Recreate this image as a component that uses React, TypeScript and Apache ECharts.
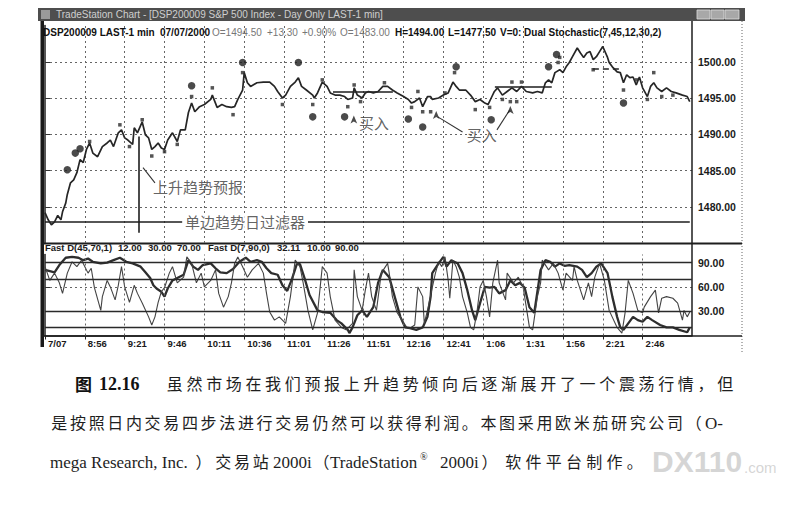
import React, { useEffect, useRef } from 'react';
import * as echarts from 'echarts';

// ---- data (x = minutes after 8:31 bar, y = price / stochastic value) ----
const tickMinutes = [0, 25, 50, 75, 100, 125, 150, 175, 200, 225, 250, 275, 300, 325, 350, 375];
const tickLabels = ['7/07', '8:56', '9:21', '9:46', '10:11', '10:36', '11:01', '11:26', '11:51', '12:16', '12:41', '1:06', '1:31', '1:56', '2:21', '2:46'];

const priceLine = [
  [0, 1479.2], [2, 1478.2], [4, 1477.5], [6, 1477.9], [8, 1478.8], [10, 1478.2], [11, 1479.3], [13, 1480.5], [14, 1481.7], [16, 1483.3],
  [18, 1483.7], [20, 1484.7], [22, 1486.5], [24, 1486.1], [26, 1487.9], [28, 1488.8], [30, 1487.4], [33, 1486.9], [36, 1488.3], [39, 1488.8],
  [41, 1489.2], [43, 1488.3], [46, 1490.2], [48, 1490.6], [50, 1489.5], [52, 1489.2], [55, 1488.6], [56, 1490.9], [58, 1490.2], [61, 1491.7],
  [63, 1489.9], [65, 1489.5], [67, 1487.9], [69, 1488.3], [71, 1488.8], [73, 1488.1], [75, 1487.9], [77, 1489.2], [80, 1490.2], [83, 1489.0],
  [85, 1490.6], [88, 1490.6], [90, 1493.0], [92, 1494.3], [94, 1493.1], [97, 1493.8], [100, 1494.1], [104, 1494.8], [105, 1495.4], [108, 1493.7],
  [111, 1494.1], [114, 1493.8], [117, 1493.7], [119, 1493.8], [121, 1494.8], [124, 1496.1], [125, 1498.5], [127, 1497.1], [129, 1496.6], [133, 1497.1],
  [137, 1497.2], [141, 1497.2], [144, 1496.6], [146, 1495.9], [149, 1495.0], [151, 1495.4], [154, 1496.6], [157, 1497.2], [159, 1497.8], [161, 1496.6],
  [164, 1496.1], [168, 1495.4], [169, 1495.0], [171, 1495.7], [174, 1497.2], [177, 1496.6], [179, 1495.7], [182, 1495.4], [185, 1495.4], [188, 1495.2],
  [190, 1494.8], [193, 1495.0], [194, 1496.4], [196, 1495.4], [199, 1495.0], [201, 1495.7], [203, 1495.9], [206, 1495.7], [209, 1495.9], [212, 1496.6],
  [215, 1496.6], [218, 1496.1], [221, 1495.7], [225, 1495.2], [228, 1494.8], [230, 1494.3], [232, 1494.5], [235, 1495.0], [237, 1493.8], [240, 1495.2],
  [242, 1495.2], [243, 1494.8], [247, 1495.0], [250, 1495.4], [253, 1495.7], [256, 1497.2], [258, 1496.6], [260, 1496.1], [264, 1496.1], [267, 1495.4],
  [270, 1494.5], [273, 1494.8], [276, 1494.3], [278, 1494.1], [280, 1495.0], [282, 1495.9], [284, 1496.4], [287, 1495.4], [290, 1495.9], [293, 1496.4],
  [296, 1495.9], [299, 1496.6], [302, 1495.9], [306, 1495.7], [309, 1495.9], [312, 1495.7], [314, 1497.1], [316, 1497.5], [318, 1497.1], [320, 1498.5],
  [323, 1498.9], [325, 1498.5], [327, 1499.3], [329, 1499.9], [331, 1500.7], [334, 1501.9], [336, 1501.2], [338, 1500.6], [340, 1501.2], [342, 1501.4],
  [344, 1500.3], [346, 1500.7], [348, 1501.4], [350, 1502.1], [353, 1500.6], [354, 1499.9], [356, 1499.3], [359, 1498.6], [361, 1498.5], [363, 1497.1],
  [365, 1498.2], [367, 1497.8], [369, 1497.9], [371, 1496.8], [373, 1497.9], [375, 1496.4], [378, 1495.2], [380, 1496.6], [382, 1497.1], [384, 1496.4],
  [387, 1495.9], [390, 1496.4], [393, 1495.9], [396, 1495.7], [400, 1495.4], [403, 1495.2], [404.6, 1494.5],
];

const swingDots = [
  [14, 1485.1], [19, 1487.4], [22, 1488.0], [92, 1496.7], [124, 1499.9], [159, 1499.9], [168, 1492.4], [188, 1492.4],
  [228, 1492.1], [237, 1491.0], [258, 1499.3], [280, 1492.0], [316, 1499.3], [321, 1501.0], [363, 1494.3],
];

const barTips = [
  [28, 1489.0], [47, 1491.3], [53, 1488.3], [61, 1492.0], [67, 1487.0], [75, 1487.6], [83, 1488.6], [92, 1495.2], [105, 1496.4],
  [118, 1492.7], [124, 1498.5], [149, 1494.1], [168, 1494.1], [174, 1497.5], [190, 1493.8], [194, 1496.8], [198, 1494.5], [213, 1497.1],
  [230, 1493.7], [234, 1495.9], [237, 1493.1], [242, 1493.1], [251, 1495.7], [257, 1498.5], [270, 1493.4], [279, 1493.7], [287, 1494.8],
  [292, 1494.5], [293, 1497.2], [296, 1494.5], [299, 1497.2], [322, 1499.9], [323, 1500.6], [344, 1498.9], [363, 1496.1], [371, 1497.5],
  [378, 1494.8], [382, 1498.5], [387, 1495.2], [394, 1495.4],
];

const buyArrows = [[193.8, 1492.6], [245.5, 1493.2], [292, 1493.9]];

const filterLevel = 1478;
const filterSegments = [[0, 86.5], [165, 404.6]];
const forecastLine = [[59, 1489.7], [59, 1476.4]];
const pointerSegments = [
  [[61.5, 1485.4], [69, 1483.3]],
  [[246.5, 1492.4], [262, 1490.3]],
  [[283.6, 1490.6], [291.5, 1493.3]],
];
const levelSegments = [
  [[180.7, 1495.9], [218.3, 1495.9]],
  [[282.3, 1496.6], [318, 1496.6]],
];
const dashedLevel = [[343.8, 1499.0], [362.6, 1499.0]];

const notes = [
  { text: '上升趋势预报', at: [96, 1482.8] },
  { text: '单边趋势日过滤器', at: [125.5, 1478] },
  { text: '买入', at: [206.4, 1491.6] },
  { text: '买入', at: [274, 1489.9] },
];

const slowD = [
  [0, 81], [6, 78], [9, 87], [13, 96], [17, 97], [21, 96], [24, 93], [27, 95], [30, 91], [35, 89], [39, 90], [43, 93], [47, 96], [51, 91],
  [55, 89], [60, 85], [63, 78], [66, 71], [68, 62], [70, 58], [73, 54], [75, 48], [77, 58], [80, 68], [83, 71], [87, 75], [90, 93], [93, 85],
  [96, 81], [99, 87], [104, 89], [107, 83], [110, 78], [114, 77], [118, 82], [122, 91], [126, 96], [129, 91], [133, 93], [136, 91], [139, 83],
  [142, 77], [146, 75], [149, 62], [152, 55], [155, 70], [158, 88], [160, 88], [163, 70], [166, 50], [171, 31], [174, 29], [179, 28], [183, 19],
  [186, 15], [190, 7], [191, 3], [193, 10], [196, 25], [199, 31], [202, 23], [206, 35], [209, 65], [212, 81], [216, 72], [220, 44], [223, 23],
  [226, 10], [229, 9], [233, 7], [237, 10], [240, 23], [242, 48], [243, 77], [247, 89], [250, 97], [252, 85], [255, 93], [259, 89], [262, 77],
  [265, 56], [268, 31], [270, 19], [273, 40], [276, 60], [279, 59], [282, 60], [285, 52], [289, 56], [292, 68], [295, 62], [298, 65], [301, 59],
  [304, 35], [307, 28], [311, 81], [314, 93], [317, 91], [320, 85], [323, 89], [326, 86], [329, 87], [334, 85], [337, 81], [340, 72], [343, 77],
  [346, 85], [349, 89], [353, 77], [356, 48], [359, 23], [361, 10], [363, 7], [366, 15], [369, 23], [372, 19], [375, 17], [378, 23], [381, 19],
  [386, 13], [390, 10], [394, 10], [398, 7], [403, 4], [404.6, 10],
];

const fastD = [
  [0, 85], [3, 68], [6, 77], [9, 65], [11, 52], [14, 77], [17, 91], [20, 85], [23, 93], [25, 85], [27, 77], [29, 83], [31, 59], [35, 31],
  [36, 48], [39, 68], [41, 60], [44, 44], [46, 62], [48, 85], [50, 60], [53, 41], [56, 62], [58, 52], [61, 40], [65, 23], [67, 13], [69, 23],
  [71, 41], [73, 54], [75, 59], [78, 77], [80, 85], [83, 65], [87, 72], [89, 97], [92, 89], [95, 65], [98, 77], [100, 60], [104, 68], [107, 81],
  [109, 52], [112, 35], [115, 48], [117, 65], [119, 89], [121, 97], [124, 85], [127, 72], [130, 81], [134, 89], [137, 77], [139, 52], [141, 29],
  [144, 19], [147, 23], [151, 15], [154, 48], [157, 93], [160, 85], [162, 65], [165, 31], [168, 7], [171, 28], [174, 85], [177, 77], [179, 48],
  [182, 19], [186, 10], [189, 7], [193, 15], [194, 81], [196, 48], [199, 31], [201, 56], [203, 77], [205, 48], [208, 31], [211, 77], [215, 89],
  [216, 77], [218, 48], [221, 28], [224, 19], [227, 10], [229, 9], [232, 13], [234, 60], [237, 48], [238, 15], [240, 31], [243, 59], [245, 77],
  [247, 91], [249, 85], [251, 97], [253, 68], [254, 46], [256, 93], [258, 85], [260, 72], [262, 48], [265, 28], [267, 10], [269, 7], [271, 28],
  [273, 60], [275, 68], [277, 48], [279, 23], [281, 65], [284, 93], [285, 65], [289, 44], [290, 77], [294, 65], [297, 72], [300, 60], [302, 35],
  [304, 10], [306, 7], [309, 48], [311, 65], [312, 93], [316, 81], [319, 89], [322, 77], [325, 56], [327, 77], [331, 68], [332, 85], [334, 68],
  [338, 44], [341, 65], [343, 48], [345, 72], [348, 89], [351, 68], [354, 31], [359, 10], [362, 3], [364, 28], [366, 68], [369, 52], [372, 31],
  [375, 28], [376, 35], [380, 48], [383, 56], [385, 28], [387, 46], [390, 48], [394, 46], [397, 40], [400, 19], [401, 31], [403, 23], [404.6, 29],
];

const stochLevels = [90, 70, 30, 10];

const infoPieces = [
  { text: 'DSP200009 LAST-1 min', x: 43, strong: true },
  { text: '07/07/2000', x: 160, strong: true },
  { text: 'O=1494.50', x: 212, strong: false },
  { text: '+13.30', x: 267, strong: false },
  { text: '+0.90%', x: 302, strong: false },
  { text: 'O=1483.00', x: 340, strong: false },
  { text: 'H=1494.00', x: 395, strong: true },
  { text: 'L=1477.50', x: 448, strong: true },
  { text: 'V=0', x: 500, strong: true },
  { text: ': Dual Stochastic(7,45,12,30,2)', x: 518, strong: true },
];

const stochPieces = [
  { text: 'Fast D(45,70,1)', x: 45 }, { text: '12.00', x: 118 }, { text: '30.00', x: 148 }, { text: '70.00', x: 177 },
  { text: 'Fast D(7,90,0)', x: 208 }, { text: '32.11', x: 277 }, { text: '10.00', x: 307 }, { text: '90.00', x: 335 },
];

const SANS = 'Liberation Sans';
const SERIF = 'Liberation Serif';
const CJK = 'Noto Sans CJK SC';

function txt(text: string, x: number, y: number, o: any = {}) {
  return {
    type: 'text', x, y, z: 10,
    style: {
      text, fill: o.fill || '#222', fontSize: o.size || 10, fontWeight: o.weight || 'normal',
      fontFamily: o.family || SANS, textAlign: o.align || 'left', textVerticalAlign: 'middle', verticalAlign: 'middle',
    },
  };
}

function spread(chars: string, x0: number, x1: number, y: number, size = 16) {
  const arr = Array.from(chars);
  const step = (x1 - x0) / arr.length;
  return arr.map((c, i) => txt(c, x0 + step * i + step / 2, y, { size, family: CJK, align: 'center', fill: '#1e1e1e' }));
}

function line(x1: number, y1: number, x2: number, y2: number, stroke = '#222', lineWidth = 1.5, lineDash?: number[]) {
  return { type: 'line', z: 1, shape: { x1, y1, x2, y2 }, style: { stroke, lineWidth, lineDash } };
}

export default function App() {
  const ref = useRef<HTMLDivElement>(null);

  useEffect(() => {
    document.body.style.margin = '0';
    const chart = echarts.init(ref.current as HTMLDivElement, undefined, { renderer: 'svg' });

    const gridDash = { color: '#666', width: 1, type: [2, 3] as any };
    const vGrid = tickMinutes.filter((v) => v > 0).map((v) => ({ xAxis: v, lineStyle: gridDash }));
    const solid = { color: '#1e1e1e', width: 1.6, type: 'solid' as any };
    const thin = { color: '#333', width: 1.1, type: 'solid' as any };

    const priceMarks: any[] = [
      ...vGrid,
      ...filterSegments.map(([a, b]) => [{ coord: [a, filterLevel], lineStyle: solid }, { coord: [b, filterLevel] }]),
      [{ coord: forecastLine[0], lineStyle: solid }, { coord: forecastLine[1] }],
      ...pointerSegments.map(([a, b]) => [{ coord: a, lineStyle: thin }, { coord: b }]),
      ...levelSegments.map(([a, b]) => [{ coord: a, lineStyle: solid }, { coord: b }]),
      [{ coord: dashedLevel[0], lineStyle: { color: '#222', width: 1.5, type: [6, 4] } }, { coord: dashedLevel[1] }],
    ];

    const xLabelFmt = (v: number) => {
      const i = tickMinutes.indexOf(v);
      return i >= 0 ? tickLabels[i] : '';
    };

    const caption: any[] = [
      txt('图', 75, 383, { size: 17, family: CJK, weight: 'bold', fill: '#111' }),
      txt('12.16', 99, 384, { size: 18, family: SERIF, weight: 'bold', fill: '#111' }),
      ...spread('虽然市场在我们预报上升趋势倾向后逐渐展开了一个震荡行情，但', 165, 735, 383),
      ...spread('是按照日内交易四步法进行交易仍然可以获得利润。本图采用欧米茄研究公司（', 50, 703, 422),
      txt('O-', 705, 423, { size: 17, family: SERIF, fill: '#1e1e1e' }),
      txt('mega Research, Inc.', 50, 462, { size: 17, family: SERIF, fill: '#1e1e1e' }),
      ...spread('）', 195, 212, 461),
      ...spread('交易站', 214, 270, 461),
      txt('2000i', 273, 462, { size: 17, family: SERIF, fill: '#1e1e1e' }),
      ...spread('（', 313, 330, 461),
      txt('TradeStation', 330, 462, { size: 17, family: SERIF, fill: '#1e1e1e' }),
      txt('®', 420, 456, { size: 10, family: SERIF, fill: '#1e1e1e' }),
      txt('2000i', 440, 462, { size: 17, family: SERIF, fill: '#1e1e1e' }),
      ...spread('）', 481, 498, 461),
      ...spread('软件平台制作。', 503, 645, 461),
      txt('DX110', 652, 461, { size: 30, weight: 'bold', fill: 'rgba(185,185,185,0.6)' }),
      txt('.com', 744, 467, { size: 15, fill: 'rgba(185,185,185,0.6)' }),
    ];

    const frame: any[] = [
      { type: 'rect', z: 1, shape: { x: 38, y: 8, width: 707, height: 13 }, style: { fill: '#4e4e4e' } },
      { type: 'rect', z: 2, shape: { x: 41, y: 10, width: 9, height: 9 }, style: { fill: '#9a9a9a' } },
      txt('TradeStation Chart - [DSP200009 S&P 500 Index - Day Only LAST-1 min]', 56, 14.5, { size: 10, fill: '#cfcfcf' }),
      { type: 'rect', z: 2, shape: { x: 697, y: 10, width: 13, height: 9 }, style: { fill: '#a8a8a8', stroke: '#ddd', lineWidth: 0.8 } },
      { type: 'rect', z: 2, shape: { x: 711, y: 10, width: 13, height: 9 }, style: { fill: '#a8a8a8', stroke: '#ddd', lineWidth: 0.8 } },
      { type: 'rect', z: 2, shape: { x: 725, y: 10, width: 14, height: 9 }, style: { fill: '#a8a8a8', stroke: '#ddd', lineWidth: 0.8 } },
      { type: 'rect', z: 1, shape: { x: 40.5, y: 21, width: 3.5, height: 326 }, style: { fill: '#1a1a1a' } },
      line(742, 21, 742, 352, '#666', 1, [1, 2]),
      line(42, 243.5, 742, 243.5, '#1e1e1e', 2),
      line(42, 336, 742, 336, '#1e1e1e', 1.5),
      line(692, 21, 692, 336, '#1e1e1e', 1.5),
      ...infoPieces.map((p) => txt(p.text, p.x, 32, { size: 10, weight: p.strong ? 'bold' : 'normal', fill: p.strong ? '#111' : '#777' })),
      ...stochPieces.map((p) => txt(p.text, p.x, 247.5, { size: 9.5, weight: 'bold', fill: '#1a1a1a' })),
    ];

    const option: any = {
      animation: false,
      backgroundColor: '#ffffff',
      grid: [
        { left: 45, right: 94, top: 25.5, height: 217.5 },
        { left: 45, right: 94, top: 254.5, height: 81 },
      ],
      xAxis: [
        {
          gridIndex: 0, type: 'value', min: 0, max: 406, interval: 25,
          axisLine: { show: false }, axisTick: { show: false }, axisLabel: { show: false }, splitLine: { show: false },
        },
        {
          gridIndex: 1, type: 'value', min: 0, max: 406, interval: 25,
          axisLine: { show: true, lineStyle: { color: '#1e1e1e', width: 1.5 } },
          axisTick: { show: true, length: 4, customValues: tickMinutes, lineStyle: { color: '#222', width: 1 } },
          axisLabel: {
            customValues: tickMinutes, formatter: xLabelFmt, align: 'left', padding: [0, 0, 0, 3], margin: 3,
            fontSize: 9.5, fontWeight: 'bold', color: '#1a1a1a', fontFamily: SANS,
          },
          splitLine: { show: false },
        },
      ],
      yAxis: [
        {
          gridIndex: 0, type: 'value', position: 'right', min: 1475, max: 1505, interval: 5,
          axisLine: { show: true, lineStyle: { color: '#1e1e1e', width: 1.5 } },
          axisTick: { show: true, length: 5, lineStyle: { color: '#333' } },
          axisLabel: {
            formatter: (v: number) => v.toFixed(2), showMinLabel: false, showMaxLabel: false, margin: 6,
            fontSize: 10.5, fontWeight: 'bold', color: '#1a1a1a', fontFamily: SANS,
          },
          splitLine: { show: true, showMinLine: false, showMaxLine: false, lineStyle: gridDash },
        },
        {
          gridIndex: 1, type: 'value', position: 'right', min: 0, max: 100, interval: 30,
          axisLine: { show: true, lineStyle: { color: '#1e1e1e', width: 1.5 } },
          axisTick: { show: true, length: 5, lineStyle: { color: '#333' } },
          axisLabel: {
            formatter: (v: number) => (v > 0 && v < 100 ? v.toFixed(2) : ''), showMinLabel: false, showMaxLabel: false, margin: 6,
            fontSize: 10.5, fontWeight: 'bold', color: '#1a1a1a', fontFamily: SANS,
          },
          splitLine: { show: true, showMinLine: false, showMaxLine: false, lineStyle: gridDash },
        },
      ],
      series: [
        {
          name: 'price', type: 'line', xAxisIndex: 0, yAxisIndex: 0, data: priceLine, symbol: 'none',
          lineStyle: { color: '#262626', width: 1.7 }, z: 3,
          markLine: { silent: true, symbol: ['none', 'none'], label: { show: false }, data: priceMarks, z: 2 },
        },
        {
          name: 'tips', type: 'scatter', xAxisIndex: 0, yAxisIndex: 0, data: barTips, symbol: 'rect', symbolSize: 3.5,
          itemStyle: { color: '#2a2a2a' }, z: 4,
        },
        {
          name: 'swing', type: 'scatter', xAxisIndex: 0, yAxisIndex: 0, data: swingDots, symbol: 'circle', symbolSize: 7.5,
          itemStyle: { color: '#1e1e1e' }, z: 5,
        },
        {
          name: 'buy', type: 'scatter', xAxisIndex: 0, yAxisIndex: 0, data: buyArrows, symbol: 'arrow', symbolSize: [5, 8],
          itemStyle: { color: '#1e1e1e' }, z: 5,
        },
        {
          name: 'notes', type: 'scatter', xAxisIndex: 0, yAxisIndex: 0, symbolSize: 1, itemStyle: { color: 'rgba(0,0,0,0)' }, z: 6,
          data: notes.map((n) => ({
            value: n.at,
            label: {
              show: true, position: 'inside', formatter: n.text, fontSize: 15, fontFamily: CJK, color: '#3a3a3a',
              backgroundColor: n.text.length > 6 ? '#ffffff' : 'transparent', padding: [0, 3],
            },
          })),
        },
        {
          name: 'Fast D(45,70,1)', type: 'line', xAxisIndex: 1, yAxisIndex: 1, data: slowD, symbol: 'none',
          lineStyle: { color: '#2e2e2e', width: 2.3 }, z: 3,
          markLine: {
            silent: true, symbol: ['none', 'none'], label: { show: false },
            data: [
              ...tickMinutes.filter((v) => v > 0).map((v) => ({ xAxis: v, lineStyle: gridDash })),
              ...stochLevels.map((v) => ({ yAxis: v, lineStyle: { color: '#2a2a2a', width: 1.3, type: 'solid' } })),
            ],
          },
        },
        {
          name: 'Fast D(7,90,0)', type: 'line', xAxisIndex: 1, yAxisIndex: 1, data: fastD, symbol: 'none',
          lineStyle: { color: '#444', width: 1.1 }, z: 4,
        },
      ],
      graphic: [...frame, ...caption],
    };

    chart.setOption(option);
    return () => chart.dispose();
  }, []);

  return <div ref={ref} style={{ width: 786, height: 513 }} />;
}
